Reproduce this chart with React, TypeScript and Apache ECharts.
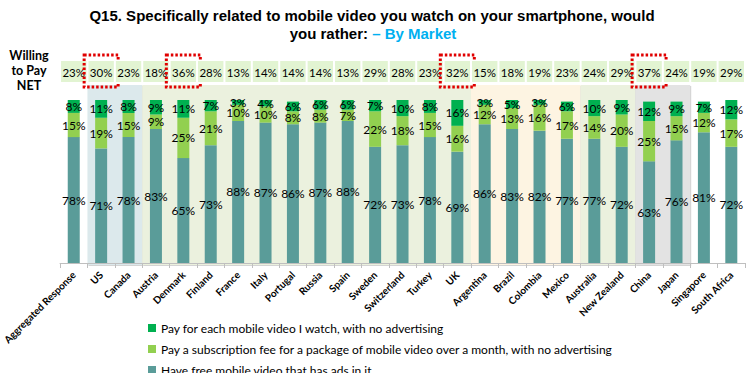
import React, { useEffect, useRef } from 'react';
import * as echarts from 'echarts';

const categories = ['Aggregated Response', 'US', 'Canada', 'Austria', 'Denmark', 'Finland', 'France', 'Italy', 'Portugal', 'Russia', 'Spain', 'Sweden', 'Switzerland', 'Turkey', 'UK', 'Argentina', 'Brazil', 'Colombia', 'Mexico', 'Australia', 'New Zealand', 'China', 'Japan', 'Singapore', 'South Africa'];
const payEach = [8, 11, 8, 9, 11, 7, 3, 4, 6, 6, 6, 7, 10, 8, 16, 3, 5, 3, 6, 10, 9, 12, 9, 7, 12];
const subscription = [15, 19, 15, 9, 25, 21, 10, 10, 8, 8, 7, 22, 18, 15, 16, 12, 13, 16, 17, 14, 20, 25, 15, 12, 17];
const freeWithAds = [78, 71, 78, 83, 65, 73, 88, 87, 86, 87, 88, 72, 73, 78, 69, 86, 83, 82, 77, 77, 72, 63, 76, 81, 72];
const willingToPay = [23, 30, 23, 18, 36, 28, 13, 14, 14, 14, 13, 29, 28, 23, 32, 15, 18, 19, 23, 24, 29, 37, 24, 19, 29];
const highlighted = ['US', 'Denmark', 'UK', 'China'];
const regionStart = ['US', 'Austria', 'Argentina', 'Australia', 'China'];
const regionEnd = ['Canada', 'UK', 'Mexico', 'New Zealand', 'Japan'];
const regionColors = ['#dce9ec', '#ebf1de', '#fdf4e2', '#ebf1de', '#e3e3e3'];
const seriesNames = [
  'Pay for each mobile video I watch, with no advertising',
  'Pay a subscription fee for a package of mobile video over a month, with no advertising',
  'Have free mobile video that has ads in it',
];
const seriesColors = ['#00b050', '#92d050', '#5a9c99'];

const FONT = 'Lato, "Open Sans", sans-serif';
const TITLE_FONT = '"Liberation Sans", Arial, sans-serif';

export default function App() {
  const ref = useRef<HTMLDivElement>(null);
  useEffect(() => {
    if (!ref.current) return;
    const chart = echarts.init(ref.current, null, { renderer: 'svg' });

    const regionData = regionStart.map((s, i) => [categories.indexOf(s), categories.indexOf(regionEnd[i]), i]);
    const wtpData = categories.map((c, i) => [i, willingToPay[i], highlighted.includes(c) ? 1 : 0]);

    const labelStyle = {
      show: true,
      position: 'inside',
      formatter: '{c}%',
      color: '#000',
      fontSize: 12,
      fontFamily: FONT,
    };

    const legends = seriesNames.map((n, i) => ({
      orient: 'vertical',
      left: 143,
      top: 317 + i * 21,
      itemWidth: 8,
      itemHeight: 8,
      icon: 'rect',
      data: [n],
      textStyle: { fontSize: 12, fontFamily: FONT, color: '#000' },
    }));

    chart.setOption({
      animation: false,
      grid: { left: 54, right: 11, top: 100, bottom: 110, containLabel: false },
      graphic: [
        {
          type: 'text',
          x: 372,
          y: 8,
          style: {
            text: 'Q15. Specifically related to mobile video you watch on your smartphone, would',
            align: 'center',
            verticalAlign: 'top',
            font: 'bold 15px ' + TITLE_FONT,
            fill: '#000',
          },
        },
        {
          type: 'text',
          x: 373,
          y: 26,
          style: {
            text: '{a|you rather: }{b|– By Market}',
            align: 'center',
            verticalAlign: 'top',
            rich: {
              a: { font: 'bold 15px ' + TITLE_FONT, fill: '#000', color: '#000' },
              b: { font: 'bold 15px ' + TITLE_FONT, fill: '#00b0f0', color: '#00b0f0' },
            },
          },
        },
        {
          type: 'text',
          x: 29,
          y: 48,
          style: {
            text: 'Willing\nto Pay\nNET',
            align: 'center',
            verticalAlign: 'top',
            font: 'bold 12.5px ' + FONT,
            lineHeight: 15,
            fill: '#000',
          },
        },
      ],
      legend: legends,
      xAxis: {
        type: 'category',
        data: categories,
        axisLine: { lineStyle: { color: '#bfbfbf' } },
        axisTick: { show: true, length: 5, lineStyle: { color: '#bfbfbf' } },
        axisLabel: {
          interval: 0,
          rotate: 45,
          fontSize: 10,
          fontWeight: 'bold',
          fontFamily: FONT,
          color: '#000',
          margin: 10,
        },
      },
      yAxis: {
        type: 'value',
        min: 0,
        max: 101,
        show: false,
        splitLine: { show: false },
      },
      series: [
        {
          type: 'custom',
          name: 'regions',
          z: 0,
          silent: true,
          data: regionData,
          encode: { x: [0, 1] },
          renderItem: (params: any, api: any) => {
            const s = api.value(0);
            const e = api.value(1);
            const ci = api.value(2);
            const p0 = api.coord([s, 0]);
            const bw = api.size([1, 0])[0];
            const x = p0[0] - bw / 2;
            const w = (e - s + 1) * bw;
            const top = params.coordSys.y - 15;
            const h = p0[1] - top + 2;
            return {
              type: 'group',
              children: [
                {
                  type: 'rect',
                  shape: { x: x + 1, y: top + 1, width: w, height: h },
                  style: { fill: '#d4d4d4' },
                },
                {
                  type: 'rect',
                  shape: { x: x, y: top, width: w, height: h },
                  style: { fill: regionColors[ci] },
                },
              ],
            };
          },
        },
        {
          type: 'custom',
          name: 'willing',
          z: 1,
          silent: true,
          data: wtpData,
          encode: { x: 0 },
          renderItem: (params: any, api: any) => {
            const idx = api.value(0);
            const v = api.value(1);
            const hl = api.value(2);
            const p = api.coord([idx, 0]);
            const bw = api.size([1, 0])[0];
            const top = params.coordSys.y - 39;
            const children: any[] = [
              {
                type: 'rect',
                shape: { x: p[0] - bw / 2 + 1, y: top, width: bw - 2, height: 21 },
                style: { fill: '#e2f4d2' },
              },
              {
                type: 'text',
                style: {
                  text: v + '%',
                  x: p[0],
                  y: top + 11,
                  align: 'center',
                  verticalAlign: 'middle',
                  font: '11.5px ' + FONT,
                  fill: '#000',
                },
              },
            ];
            if (hl) {
              children.push({
                type: 'rect',
                shape: { x: p[0] - 17, y: params.coordSys.y - 45, width: 34, height: 32 },
                style: { fill: 'none', stroke: '#e00000', lineWidth: 3, lineDash: [2.5, 2] },
              });
            }
            return { type: 'group', children };
          },
        },
        {
          type: 'bar',
          name: seriesNames[2],
          stack: 'total',
          barWidth: 12,
          z: 2,
          itemStyle: { color: seriesColors[2] },
          label: labelStyle,
          data: freeWithAds,
        },
        {
          type: 'bar',
          name: seriesNames[1],
          stack: 'total',
          barWidth: 12,
          z: 2,
          itemStyle: { color: seriesColors[1] },
          label: labelStyle,
          data: subscription,
        },
        {
          type: 'bar',
          name: seriesNames[0],
          stack: 'total',
          barWidth: 12,
          z: 2,
          itemStyle: { color: seriesColors[0] },
          label: labelStyle,
          data: payEach,
        },
      ],
    });
    return () => chart.dispose();
  }, []);
  return <div ref={ref} style={{ width: 756, height: 373, position: 'absolute', left: 0, top: 0 }} />;
}
